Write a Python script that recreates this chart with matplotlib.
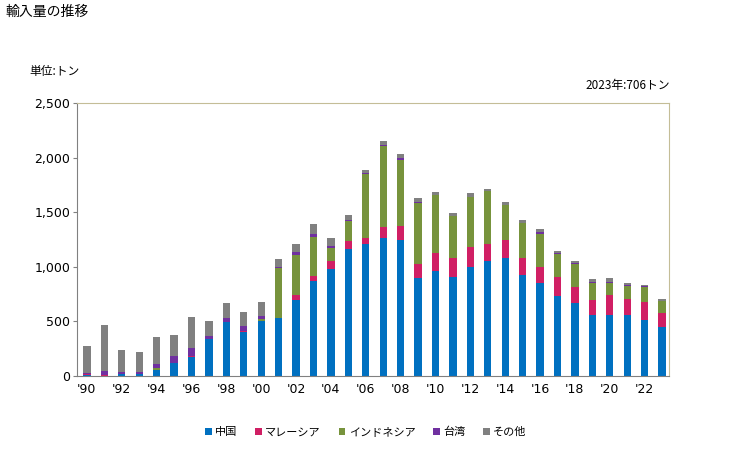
import matplotlib
matplotlib.use("Agg")
import matplotlib.pyplot as plt
import numpy as np

plt.rcParams['font.family'] = ['Noto Sans CJK JP', 'DejaVu Sans']

years = list(range(1990, 2024))
china = [8, 0, 21, 21, 58, 122, 174, 336, 498, 403, 504, 532, 700, 871, 981, 1164, 1213, 1268,
         1250, 901, 963, 908, 999, 1054, 1085, 926, 853, 736, 669, 559, 559, 559, 516, 449]
malaysia = [8, 8, 0, 0, 0, 0, 12, 0, 0, 10, 0, 0, 43, 46, 73, 74, 55, 101,
            128, 129, 165, 177, 178, 159, 165, 159, 146, 172, 147, 138, 184, 147, 162, 129]
indonesia = [0, 0, 0, 0, 18, 0, 0, 0, 0, 0, 19, 458, 366, 357, 120, 177, 584, 740,
             602, 556, 528, 382, 461, 477, 318, 318, 303, 210, 211, 156, 110, 119, 138, 110]
taiwan = [10, 37, 19, 19, 34, 64, 74, 31, 34, 45, 27, 9, 28, 22, 21, 18, 9, 9,
          19, 3, 0, 0, 0, 0, 0, 0, 18, 10, 9, 9, 9, 9, 9, 0]
others = [250, 422, 198, 180, 248, 190, 281, 137, 137, 129, 128, 74, 73, 98, 70, 43, 28, 36,
          36, 37, 31, 27, 40, 24, 27, 30, 22, 18, 18, 27, 36, 19, 9, 18]

series = [("中国", china, "#0070C0"),
          ("マレーシア", malaysia, "#D01F64"),
          ("インドネシア", indonesia, "#77933C"),
          ("台湾", taiwan, "#7030A0"),
          ("その他", others, "#808080")]

fig = plt.figure(figsize=(7.29, 4.5), dpi=100)
ax = fig.add_axes([77/729, 1 - 376/450, (669-77)/729, (376-103)/450])

x = np.arange(len(years))
bottom = np.zeros(len(years))
for name, vals, col in series:
    v = np.array(vals, dtype=float)
    ax.bar(x, v, bottom=bottom, width=0.42, color=col, label=name, linewidth=0)
    bottom += v

ax.set_xlim(-0.57, len(years) - 0.6)
ax.set_ylim(0, 2500)
ax.set_yticks(range(0, 2501, 500))
ax.set_yticklabels([f"{v:,}" for v in range(0, 2501, 500)], fontsize=9, family=['DejaVu Sans'])
ax.set_xticks(x[::2])
ax.set_xticklabels([f"'{str(y)[2:]}" for y in years[::2]], fontsize=9, family=['DejaVu Sans'])
ax.tick_params(axis='x', length=0, pad=5)
ax.tick_params(axis='y', length=3, color='#808080', pad=2)

for s in ['left', 'bottom']:
    ax.spines[s].set_color('#808080')
for s in ['top', 'right']:
    ax.spines[s].set_color('#C4BD97')

fig.text(5/729, 1 - 12/450, "輸入量の推移", fontsize=10, va='center', ha='left')
fig.text(29/729, 1 - 72/450, "単位:トン", fontsize=8.5, va='center', ha='left')
fig.text(670/729, 1 - 86/450, "2023年:706トン", fontsize=8.5, va='center', ha='right')

leg = fig.legend(loc='center', bbox_to_anchor=(366/729, 1 - 432/450), ncol=5, frameon=False,
                 fontsize=8, handlelength=0.6, handleheight=0.6, handletextpad=0.3, columnspacing=1.6)

fig.savefig("out.png", dpi=100)
